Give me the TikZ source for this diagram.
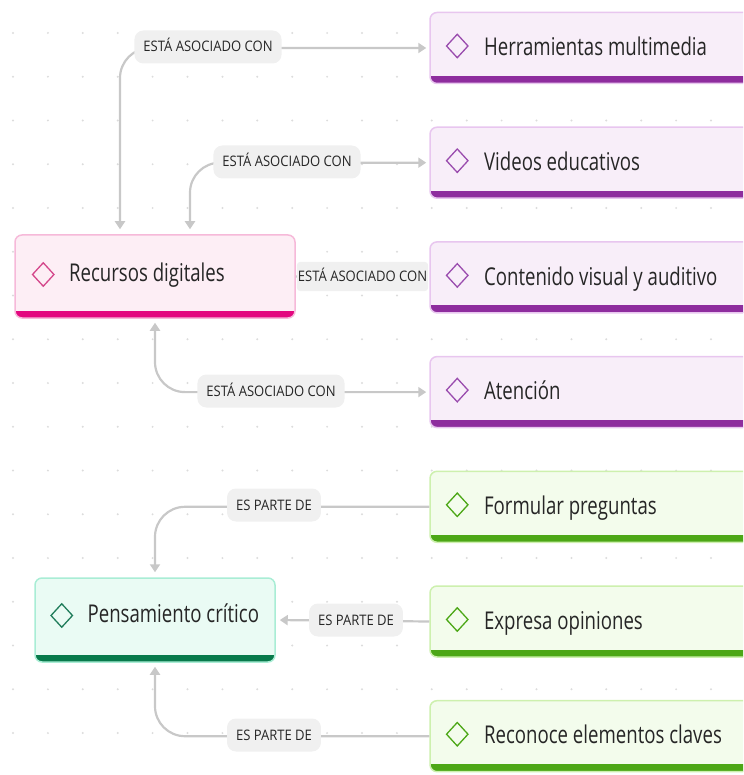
\documentclass[tikz,border=0pt]{standalone}
\usepackage{fontspec}
\setmainfont{Open Sans}[FakeStretch=0.76]
\newfontfamily\tagfont{Open Sans}[FakeStretch=0.9]
\usetikzlibrary{positioning,shapes.geometric,arrows.meta}

\definecolor{lilacfill}{HTML}{F8EEF9}
\definecolor{lilacline}{HTML}{E8C6EF}
\definecolor{lilacbar}{HTML}{8E2D9E}
\definecolor{lilacicon}{HTML}{9A4CAE}
\definecolor{pinkfill}{HTML}{FDEEF5}
\definecolor{pinkline}{HTML}{F6B9D9}
\definecolor{pinkbar}{HTML}{E3077F}
\definecolor{pinkicon}{HTML}{D4468A}
\definecolor{mintfill}{HTML}{EAFBF4}
\definecolor{mintline}{HTML}{A9EDD5}
\definecolor{mintbar}{HTML}{087A4B}
\definecolor{minticon}{HTML}{1F7C5A}
\definecolor{leaffill}{HTML}{F3FCEC}
\definecolor{leafline}{HTML}{CDF0AE}
\definecolor{leafbar}{HTML}{4CA716}
\definecolor{taggray}{HTML}{F0F0F0}
\definecolor{linkgray}{HTML}{C8C8C8}
\definecolor{textgray}{HTML}{262626}
\definecolor{dotgray}{HTML}{DCDCDC}

\begin{document}
\begin{tikzpicture}
    [
        x=1pt,
        y=-1pt,
        >={Triangle[width=10pt,length=8pt]},
        concept/.style n args={3}{
                rectangle,
                rounded corners=7pt,
                draw=#1,
                line width=1.5pt,
                fill=#2,
                path picture={
                        \fill [#3, sharp corners] (path picture bounding box.south west) rectangle ([yshift=7.5pt]path picture bounding box.south east);
                    },
            },
        rightbox/.style={
                minimum width=330pt,
                minimum height=71pt,
            },
        icon/.style={
                diamond,
                draw=#1,
                line width=1.3pt,
                minimum width=22pt,
                minimum height=24pt,
                inner sep=0pt,
            },
        nametext/.style={
                text=textgray,
                font=\fontsize{24.5}{28}\selectfont,
                inner sep=0pt,
                text height=17.5pt,
                text depth=0pt,
            },
        tag/.style={
                fill=taggray,
                rounded corners=9pt,
                text=textgray,
                font=\tagfont\fontsize{14.5}{16}\selectfont,
                minimum height=33pt,
                inner xsep=9pt,
                text height=10pt,
                text depth=0pt,
            },
        link/.style={
                draw=linkgray,
                line width=2.2pt,
                rounded corners=30pt,
            },
    ]

    \useasboundingbox (0,0) rectangle (743,775);
    \clip (0,0) rectangle (743,775);

    % dotted canvas
    \foreach \i in {0,...,21}
        \foreach \j in {0,...,17}
            \fill [dotgray] (13+34.9*\i, 33+43.75*\j) circle (1.1pt);

    % left concepts
    \node [concept={pinkline}{pinkfill}{pinkbar}, minimum width=280pt, minimum height=83pt] (recursos) at (155,276.5) {};
    \node [icon=pinkicon] (recursos-icon) at ([xshift=29pt,yshift=2pt]recursos.west) {};
    \node [nametext, right=14pt of recursos-icon, yshift=2pt] (recursos-text) {Recursos digitales};

    \node [concept={mintline}{mintfill}{mintbar}, minimum width=240pt, minimum height=84pt] (pensamiento) at (155,620) {};
    \node [icon=minticon] (pensamiento-icon) at ([xshift=27.5pt,yshift=4.5pt]pensamiento.west) {};
    \node [nametext, right=14pt of pensamiento-icon, yshift=1.5pt] (pensamiento-text) {Pensamiento crítico};

    % right column, top to bottom
    \node [concept={lilacline}{lilacfill}{lilacbar}, rightbox] (herr) at (595,48) {};
    \node [concept={lilacline}{lilacfill}{lilacbar}, rightbox, below=42.2pt of herr] (videos) {};
    \node [concept={lilacline}{lilacfill}{lilacbar}, rightbox, below=42.2pt of videos] (contenido) {};
    \node [concept={lilacline}{lilacfill}{lilacbar}, rightbox, below=42.2pt of contenido] (atencion) {};
    \node [concept={leafline}{leaffill}{leafbar}, rightbox, below=42.2pt of atencion] (formular) {};
    \node [concept={leafline}{leaffill}{leafbar}, rightbox, below=42.2pt of formular] (expresa) {};
    \node [concept={leafline}{leaffill}{leafbar}, rightbox, below=42.2pt of expresa] (reconoce) {};

    \foreach \nm/\col/\txt in {
            herr/lilacicon/Herramientas multimedia,
            videos/lilacicon/Videos educativos,
            contenido/lilacicon/Contenido visual y auditivo,
            atencion/lilacicon/Atención,
            formular/leafbar/Formular preguntas,
            expresa/leafbar/Expresa opiniones,
            reconoce/leafbar/Reconoce elementos claves%
        }
        {
            \node [icon=\col] (\nm-icon) at ([xshift=28pt,yshift=2pt]\nm.west) {};
            \node [nametext, right=15pt of \nm-icon, yshift=-1pt] (\nm-text) {\txt};
        }

    % associations
    \draw [link, <->, shorten <=5pt, shorten >=3pt] ([xshift=-35pt]recursos.north) |- (herr.west);
    \draw [link, <->, shorten <=5pt, shorten >=3pt] ([xshift=35pt]recursos.north) |- (videos.west);
    \draw [link, ->, shorten >=3pt] (recursos.east) -- (contenido.west);
    \draw [link, <->, shorten <=4pt, shorten >=3pt] (recursos.south) |- (atencion.west);

    % parts
    \draw [link, <-, shorten <=5pt] (pensamiento.north) |- (formular.west);
    \draw [link, ->, shorten >=4pt] (expresa.west) -- (pensamiento.east);
    \draw [link, <-, shorten <=4pt] (pensamiento.south) |- (reconoce.west);

    % connector labels
    \node [tag] (herr-tag) at (208,47) {ESTÁ ASOCIADO CON};
    \node [tag] (videos-tag) at (287,162) {ESTÁ ASOCIADO CON};
    \node [tag, inner xsep=1pt, rounded corners=3pt, minimum height=29pt] (contenido-tag) at (362.5,276.5) {ESTÁ ASOCIADO CON};
    \node [tag] (atencion-tag) at (271,391) {ESTÁ ASOCIADO CON};
    \node [tag] (formular-tag) at (274,505) {ES PARTE DE};
    \node [tag] (expresa-tag) at (356,620) {ES PARTE DE};
    \node [tag] (reconoce-tag) at (274,735) {ES PARTE DE};
\end{tikzpicture}
\end{document}
